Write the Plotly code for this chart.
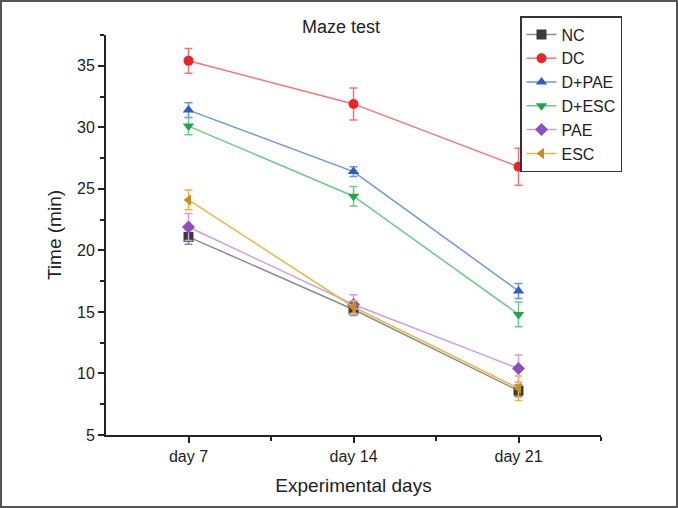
import plotly.graph_objects as go

days = ["day 7", "day 14", "day 21"]
groups = ["NC", "DC", "D+PAE", "D+ESC", "PAE", "ESC"]
nc = [21.1, 15.2, 8.6]
dc = [35.4, 31.9, 26.8]
d_pae = [31.4, 26.4, 16.7]
d_esc = [30.1, 24.4, 14.8]
pae = [21.9, 15.6, 10.4]
esc = [24.1, 15.4, 8.8]
nc_err = [0.6, 0.5, 0.5]
dc_err = [1.0, 1.3, 1.5]
d_pae_err = [0.6, 0.4, 0.6]
d_esc_err = [0.7, 0.8, 1.0]
pae_err = [1.1, 0.8, 1.1]
esc_err = [0.8, 0.5, 1.0]

values = [nc, dc, d_pae, d_esc, pae, esc]
errors = [nc_err, dc_err, d_pae_err, d_esc_err, pae_err, esc_err]
line_colors = ["#8c8c8c", "#f47575", "#6f94dc", "#6cc98a", "#c9a0e4", "#e6b84a"]
marker_colors = ["#3a3a3a", "#ee2229", "#2c5fc4", "#1fa64c", "#8e4fc2", "#c4901c"]
symbols = ["square", "circle", "triangle-up", "triangle-down", "diamond", "triangle-left"]

x = list(range(len(days)))

fig = go.Figure()
for name, y, err, lc, mc, sym in zip(groups, values, errors, line_colors, marker_colors, symbols):
    fig.add_trace(go.Scatter(
        x=x, y=y, name=name, mode="lines+markers",
        line=dict(color=lc, width=1.5),
        marker=dict(color=mc, symbol=sym, size=10),
        error_y=dict(type="data", array=err, color=lc, thickness=1.5, width=4),
    ))

L, R, T, B = 106, 77, 35, 73
W, H = 678, 508
pw, ph = W - L - R, H - T - B

# grey frame round the whole picture
fig.add_shape(type="rect", xref="paper", yref="paper",
              x0=(1 - L) / pw, x1=(W - 1 - L) / pw,
              y0=(1 - B) / ph, y1=(H - 1 - B) / ph,
              line=dict(color="#555555", width=2))

fig.update_layout(
    width=W, height=H,
    margin=dict(l=L, r=R, t=T, b=B),
    paper_bgcolor="white", plot_bgcolor="white",
    font=dict(family="Liberation Sans, Arial", color="#222222"),
    title=dict(text="Maze test", x=341 / W, xanchor="center",
               y=1 - 27 / H, yanchor="middle", font=dict(size=18)),
    showlegend=True,
    legend=dict(x=(520 - L) / pw, y=(H - B - 16) / ph, xanchor="left", yanchor="top",
                bordercolor="#333333", borderwidth=1.5, bgcolor="white",
                font=dict(size=16), tracegroupgap=0, itemwidth=30),
    xaxis=dict(
        range=[-0.5, 2.5], tickvals=x, ticktext=days,
        showline=True, linecolor="#222222", linewidth=2,
        ticks="outside", ticklen=6, tickwidth=1.5, tickcolor="#222222",
        minor=dict(tickvals=[0.5, 1.5, 2.5], ticks="outside", ticklen=4, tickcolor="#222222"),
        showgrid=False, zeroline=False, tickfont=dict(size=16),
        title=dict(text="Experimental days", font=dict(size=19), standoff=14),
    ),
    yaxis=dict(
        range=[5, 37.5], tickvals=[5, 10, 15, 20, 25, 30, 35],
        showline=True, linecolor="#222222", linewidth=2,
        ticks="outside", ticklen=6, tickwidth=1.5, tickcolor="#222222",
        minor=dict(tick0=5, dtick=2.5, ticks="outside", ticklen=4, tickcolor="#222222"),
        showgrid=False, zeroline=False, tickfont=dict(size=16),
        title=dict(text="Time (min)", font=dict(size=19), standoff=10),
    ),
)

fig.write_html("out.html", config={"displayModeBar": False},
               post_script="document.body.style.margin='0';")
